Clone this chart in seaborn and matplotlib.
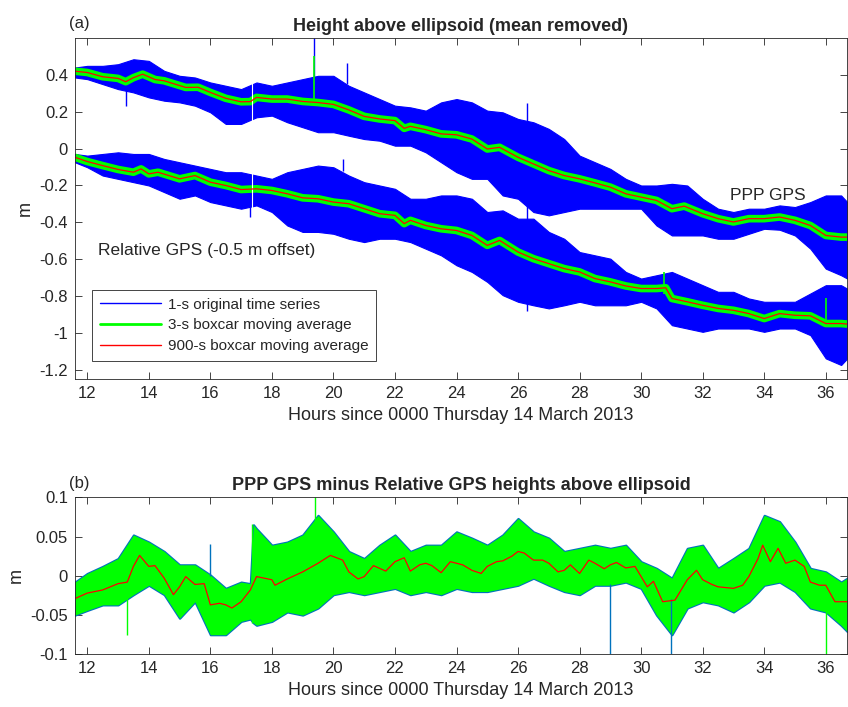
import numpy as np
import pandas as pd
import matplotlib
matplotlib.use("Agg")
import matplotlib.pyplot as plt
from matplotlib.lines import Line2D
import seaborn as sns

# ---- top panel: envelope of the 1-s series ----
hours = [11.6, 12.0, 12.5, 13.0, 13.5, 14.0, 14.5, 15.0, 15.5, 16.0, 16.5, 17.0, 17.5,
         18.0, 18.5, 19.0, 19.5, 20.0, 20.5, 21.0, 21.5, 22.0, 22.5, 23.0, 23.5, 24.0,
         24.5, 25.0, 25.5, 26.0, 26.5, 27.0, 27.5, 28.0, 28.5, 29.0, 29.5, 30.0, 30.5,
         31.0, 31.5, 32.0, 32.5, 33.0, 33.5, 34.0, 34.5, 35.0, 35.5, 36.0, 36.5, 36.7]

ppp_hi = [0.44, 0.449, 0.449, 0.458, 0.485, 0.476, 0.422, 0.395, 0.386, 0.359, 0.341, 0.323, 0.359,
          0.341, 0.359, 0.377, 0.395, 0.395, 0.341, 0.305, 0.269, 0.233, 0.224, 0.206, 0.251, 0.269,
          0.251, 0.206, 0.197, 0.161, 0.143, 0.107, 0.052, -0.038, -0.074, -0.11, -0.164, -0.2, -0.2,
          -0.191, -0.2, -0.272, -0.326, -0.344, -0.326, -0.326, -0.308, -0.317, -0.29, -0.254, -0.254, -0.29]
ppp_lo = [0.386, 0.377, 0.35, 0.323, 0.305, 0.278, 0.26, 0.251, 0.233, 0.197, 0.134, 0.134, 0.17,
          0.179, 0.143, 0.116, 0.089, 0.089, 0.07, 0.052, 0.043, 0.016, 0.016, -0.02, -0.074, -0.128,
          -0.164, -0.164, -0.254, -0.272, -0.344, -0.362, -0.344, -0.326, -0.326, -0.326, -0.326, -0.326, -0.417,
          -0.471, -0.471, -0.471, -0.489, -0.489, -0.462, -0.435, -0.44, -0.471, -0.543, -0.651, -0.687, -0.705]
rel_hi = [-0.029, -0.038, -0.029, -0.02, -0.029, -0.029, -0.056, -0.074, -0.092, -0.11, -0.128, -0.128, -0.146,
          -0.164, -0.128, -0.11, -0.092, -0.101, -0.146, -0.182, -0.2, -0.218, -0.272, -0.272, -0.254, -0.254,
          -0.272, -0.344, -0.335, -0.38, -0.38, -0.452, -0.489, -0.561, -0.579, -0.597, -0.669, -0.705, -0.687,
          -0.669, -0.705, -0.741, -0.777, -0.777, -0.813, -0.831, -0.831, -0.831, -0.786, -0.741, -0.741, -0.76]
rel_lo = [-0.074, -0.101, -0.146, -0.164, -0.182, -0.2, -0.236, -0.272, -0.254, -0.29, -0.308, -0.326, -0.308,
          -0.344, -0.417, -0.452, -0.452, -0.462, -0.489, -0.507, -0.489, -0.489, -0.507, -0.543, -0.579, -0.633,
          -0.669, -0.723, -0.795, -0.831, -0.85, -0.867, -0.85, -0.831, -0.85, -0.85, -0.85, -0.831, -0.867,
          -0.958, -0.976, -0.994, -0.976, -0.976, -0.976, -0.994, -0.976, -0.976, -1.012, -1.138, -1.174, -1.138]

# 900-s moving averages
ppp_avg_h = [11.6, 12.0, 12.5, 13.0, 13.25, 13.5, 13.8, 14.2, 14.5, 15.2, 15.6, 16.0, 16.5, 17.0, 17.3,
             17.5, 18.0, 18.5, 19.0, 19.5, 20.0, 20.5, 21.0, 21.5, 22.0, 22.3, 22.5, 23.0, 23.5, 24.0,
             24.5, 25.0, 25.4, 26.0, 26.5, 27.0, 27.5, 28.0, 28.5, 29.0, 29.5, 30.0, 30.5, 31.0, 31.4,
             32.0, 32.5, 33.0, 33.5, 34.0, 34.5, 35.0, 35.5, 36.0, 36.5, 36.7]
ppp_avg = [0.42, 0.413, 0.39, 0.381, 0.363, 0.385, 0.404, 0.375, 0.368, 0.332, 0.333, 0.305, 0.273, 0.254, 0.255,
           0.278, 0.269, 0.269, 0.256, 0.25, 0.24, 0.21, 0.175, 0.161, 0.152, 0.11, 0.121, 0.103, 0.08, 0.075,
           0.052, -0.002, 0.007, -0.047, -0.083, -0.119, -0.146, -0.164, -0.186, -0.209, -0.245, -0.263, -0.281, -0.326, -0.312,
           -0.353, -0.38, -0.398, -0.38, -0.38, -0.371, -0.389, -0.417, -0.471, -0.48, -0.48]
rel_avg_h = [11.6, 12.0, 12.5, 13.0, 13.5, 13.75, 14.0, 14.3, 15.0, 15.5, 16.0, 16.5, 17.0, 17.5, 18.0,
             18.5, 19.0, 19.5, 20.0, 20.5, 21.0, 21.5, 22.0, 22.3, 22.5, 23.0, 23.5, 24.0, 24.5, 25.0,
             25.4, 26.0, 26.5, 27.0, 27.5, 28.0, 28.5, 29.0, 29.5, 30.0, 30.5, 30.8, 31.0, 31.5, 32.0,
             32.5, 33.0, 33.5, 34.0, 34.5, 35.0, 35.5, 36.0, 36.5, 36.7]
rel_avg = [-0.047, -0.07, -0.092, -0.113, -0.128, -0.11, -0.137, -0.128, -0.164, -0.146, -0.182, -0.2, -0.222, -0.218, -0.227,
           -0.245, -0.267, -0.272, -0.29, -0.299, -0.326, -0.353, -0.362, -0.407, -0.389, -0.417, -0.435, -0.444, -0.471, -0.525,
           -0.498, -0.561, -0.597, -0.624, -0.651, -0.669, -0.705, -0.723, -0.745, -0.759, -0.759, -0.755, -0.813, -0.831, -0.85,
           -0.867, -0.877, -0.895, -0.922, -0.895, -0.904, -0.907, -0.949, -0.949, -0.952]

# isolated outliers (hour, low, high)
spike_h = [13.25, 17.3, 19.38, 20.3, 20.45, 26.3]
spike_lo = [0.23, -0.373, 0.3, -0.12, 0.35, -0.88]
spike_hi = [0.36, -0.25, 0.6, -0.057, 0.465, 0.25]
gspike_h = [19.38, 30.75, 36.0]
gspike_lo = [0.27, -0.79, -0.95]
gspike_hi = [0.5, -0.67, -0.81]

# ---- bottom panel: difference series ----
b_hours = [11.6, 12.0, 12.5, 13.0, 13.5, 14.0, 14.5, 15.0, 15.5, 16.0, 16.5, 17.0, 17.3, 17.4, 17.5,
           18.0, 18.5, 19.0, 19.5, 20.0, 20.5, 21.0, 21.5, 22.0, 22.5, 23.0, 23.5, 24.0, 24.5, 25.0,
           25.5, 26.0, 26.5, 27.0, 27.5, 28.0, 28.5, 29.0, 29.5, 30.0, 30.5, 31.0, 31.5, 32.0, 32.5,
           33.0, 33.5, 34.0, 34.5, 35.0, 35.5, 36.0, 36.5, 36.7]
diff_hi = [-0.008, 0.003, 0.012, 0.022, 0.052, 0.043, 0.031, 0.014, 0.014, 0.001, -0.016, -0.008, -0.01, 0.065, 0.06,
           0.039, 0.043, 0.052, 0.077, 0.056, 0.031, 0.022, 0.039, 0.052, 0.031, 0.039, 0.039, 0.056, 0.048, 0.039,
           0.052, 0.073, 0.056, 0.048, 0.031, 0.035, 0.039, 0.035, 0.039, 0.018, 0.0095, -0.003, 0.035, 0.039, 0.0095,
           0.022, 0.035, 0.077, 0.069, 0.043, 0.0095, 0.005, -0.008, -0.003]
diff_lo = [-0.05, -0.044, -0.037, -0.037, -0.024, -0.012, -0.024, -0.054, -0.033, -0.075, -0.075, -0.058, -0.055, -0.06, -0.063,
           -0.058, -0.046, -0.05, -0.041, -0.024, -0.02, -0.024, -0.02, -0.016, -0.024, -0.02, -0.024, -0.016, -0.02, -0.02,
           -0.016, -0.012, -0.003, -0.012, -0.02, -0.024, -0.012, -0.012, -0.008, -0.016, -0.05, -0.075, -0.041, -0.033, -0.037,
           -0.046, -0.033, -0.012, -0.008, -0.02, -0.041, -0.046, -0.063, -0.071]
diff_avg_h = [11.6, 12.0, 12.5, 13.0, 13.3, 13.5, 13.7, 14.0, 14.2, 14.5, 14.8, 15.0, 15.2, 15.5, 15.8,
              16.0, 16.3, 16.5, 16.7, 17.0, 17.3, 17.5, 18.0, 18.1, 18.5, 19.0, 19.5, 19.9, 20.3, 20.5,
              20.8, 21.0, 21.3, 21.5, 21.7, 22.0, 22.3, 22.5, 22.8, 23.0, 23.2, 23.5, 23.8, 24.2, 24.5,
              24.8, 25.0, 25.3, 25.5, 25.8, 26.0, 26.2, 26.5, 26.8, 27.0, 27.3, 27.5, 27.7, 28.0, 28.3,
              28.5, 28.8, 29.0, 29.2, 29.5, 29.8, 30.0, 30.2, 30.4, 30.7, 30.9, 31.1, 31.5, 31.8, 32.0,
              32.3, 32.5, 33.0, 33.3, 33.5, 33.8, 33.95, 34.2, 34.45, 34.7, 35.0, 35.3, 35.5, 35.8, 36.0,
              36.3, 36.7]
diff_avg = [-0.029, -0.022, -0.018, -0.01, -0.008, 0.012, 0.026, 0.012, 0.013, -0.003, -0.024, -0.014, -0.001, -0.011, -0.01,
            -0.037, -0.035, -0.037, -0.041, -0.033, -0.018, -0.001, -0.005, -0.012, -0.004, 0.005, 0.016, 0.026, 0.02, 0.005,
            -0.004, -0.001, 0.013, 0.0095, 0.006, 0.018, 0.023, 0.006, 0.014, 0.016, 0.013, 0.004, 0.018, 0.014, 0.007,
            0.003, 0.012, 0.018, 0.019, 0.025, 0.031, 0.029, 0.02, 0.02, 0.016, 0.005, 0.007, 0.014, 0.003, 0.02,
            0.016, 0.009, 0.014, 0.017, 0.01, 0.012, -0.001, -0.014, -0.007, -0.033, -0.032, -0.031, -0.005, 0.007, -0.005,
            -0.011, -0.014, -0.016, -0.012, -0.001, 0.022, 0.039, 0.018, 0.035, 0.016, 0.02, 0.012, -0.008, -0.012, -0.012,
            -0.033, -0.033]
b_spike_h = [16.0, 29.0, 30.97]
b_spike_lo = [0.0, -0.1, -0.1]
b_spike_hi = [0.04, -0.01, -0.03]
b_gspike_h = [13.3, 17.35, 19.4, 36.0]
b_gspike_lo = [-0.075, -0.06, 0.03, -0.1]
b_gspike_hi = [-0.02, 0.066, 0.1, -0.04]

BLUE, GREEN, RED, MBLUE = "#0000ff", "#00ff00", "#ff0000", "#0072bd"
XLIM = (11.6, 36.69)

sns.set_style("ticks")
plt.rcParams["font.family"] = ["Liberation Sans", "DejaVu Sans"]
plt.rcParams["axes.edgecolor"] = "#262626"
plt.rcParams["axes.linewidth"] = 0.6

fig = plt.figure(figsize=(8.48, 7.07), dpi=100)
ax1 = fig.add_axes([0.0884, 0.4639, 0.9104, 0.4823])
ax2 = fig.add_axes([0.0884, 0.0745, 0.9104, 0.2221])

top = pd.DataFrame({"h": hours, "ppp_hi": ppp_hi, "ppp_lo": ppp_lo, "rel_hi": rel_hi, "rel_lo": rel_lo})
ppp = pd.DataFrame({"h": ppp_avg_h, "v": ppp_avg})
rel = pd.DataFrame({"h": rel_avg_h, "v": rel_avg})

# 1-s series
for hi, lo in [("ppp_hi", "ppp_lo"), ("rel_hi", "rel_lo")]:
    ax1.fill_between(top["h"], top[lo], top[hi], color=BLUE, lw=0.8, edgecolor=BLUE)
ax1.vlines(spike_h, spike_lo, spike_hi, color=BLUE, lw=1.0)
# 3-s boxcar shown as a wide band round the slow mean
for d in (ppp, rel):
    sns.lineplot(data=d, x="h", y="v", ax=ax1, color=GREEN, lw=5.5,
                 solid_capstyle="butt", solid_joinstyle="round")
ax1.vlines(gspike_h, gspike_lo, gspike_hi, color=GREEN, lw=1.2)
ax1.axvline(17.35, color="white", lw=0.8)
for d in (ppp, rel):
    sns.lineplot(data=d, x="h", y="v", ax=ax1, color=RED, lw=0.9, solid_joinstyle="round")

ax1.set_xlim(*XLIM)
ax1.set_ylim(-1.25, 0.6)
ax1.set_yticks([-1.2, -1.0, -0.8, -0.6, -0.4, -0.2, 0, 0.2, 0.4])
ax1.set_yticklabels(["-1.2", "-1", "-0.8", "-0.6", "-0.4", "-0.2", "0", "0.2", "0.4"])
ax1.set_title("Height above ellipsoid (mean removed)", fontsize=13, fontweight="bold", pad=5)
ax1.set_ylabel("m", fontsize=13)
ax1.set_xlabel("Hours since 0000 Thursday 14 March 2013", fontsize=13, labelpad=4)
ax1.text(11.4, 0.68, "(a)", fontsize=12, ha="left", va="center")
ax1.text(12.35, -0.55, "Relative GPS (-0.5 m offset)", fontsize=12.5, va="center")
ax1.text(32.9, -0.255, "PPP GPS", fontsize=12.5, va="center")

handles = [Line2D([], [], color=BLUE, lw=1.0),
           Line2D([], [], color=GREEN, lw=2.0),
           Line2D([], [], color=RED, lw=1.0)]
labels = ["1-s original time series", "3-s boxcar moving average", "900-s boxcar moving average"]
leg = ax1.legend(handles, labels, loc="lower left", bbox_to_anchor=(0.022, 0.053), borderaxespad=0,
                 fontsize=11, frameon=True, fancybox=False, framealpha=1, edgecolor="#262626",
                 handlelength=4.0, handletextpad=0.45, labelspacing=0.45, borderpad=0.5)
leg.get_frame().set_linewidth(0.6)

# bottom panel
bot = pd.DataFrame({"h": b_hours, "hi": diff_hi, "lo": diff_lo})
dif = pd.DataFrame({"h": diff_avg_h, "v": diff_avg})
ax2.fill_between(bot["h"], bot["lo"], bot["hi"], color=MBLUE, edgecolor=MBLUE, lw=1.6)
ax2.vlines(b_spike_h, b_spike_lo, b_spike_hi, color=MBLUE, lw=1.0)
ax2.fill_between(bot["h"], bot["lo"], bot["hi"], color=GREEN, lw=0)
ax2.vlines(b_gspike_h, b_gspike_lo, b_gspike_hi, color=GREEN, lw=1.0)
sns.lineplot(data=dif, x="h", y="v", ax=ax2, color=RED, lw=0.9, solid_joinstyle="round")

ax2.set_xlim(*XLIM)
ax2.set_ylim(-0.1, 0.1)
ax2.set_yticks([-0.1, -0.05, 0, 0.05, 0.1])
ax2.set_yticklabels(["-0.1", "-0.05", "0", "0.05", "0.1"])
ax2.set_title("PPP GPS minus Relative GPS heights above ellipsoid", fontsize=13, fontweight="bold", pad=5)
ax2.set_ylabel("m", fontsize=13)
ax2.set_xlabel("Hours since 0000 Thursday 14 March 2013", fontsize=13, labelpad=4)
ax2.text(11.4, 0.117, "(b)", fontsize=12, ha="left", va="center")

for ax in (ax1, ax2):
    ax.set_xticks(range(12, 37, 2))
    ax.tick_params(direction="in", length=5, width=0.6, top=True, right=True,
                   labelsize=12, color="#262626", pad=5)
    for s in ax.spines.values():
        s.set_visible(True)

fig.savefig("out.png", dpi=100)
